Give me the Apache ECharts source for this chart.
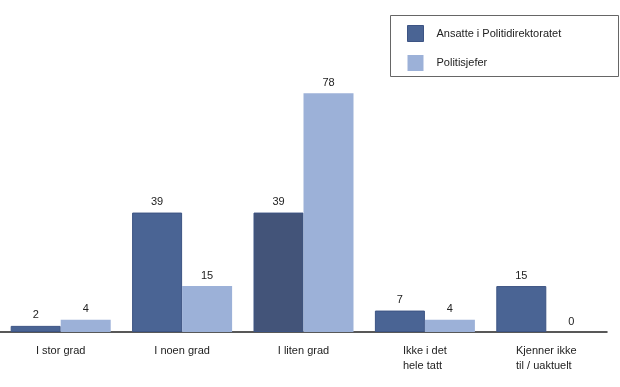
<!DOCTYPE html>
<html><head><meta charset="utf-8">
<script src="https://cdn.jsdelivr.net/npm/echarts@6/dist/echarts.min.js"></script>
<style>html,body{margin:0;padding:0;background:#fff}#c{width:620px;height:387px}</style>
</head><body><div id="c"></div>
<script>
var categories = ['I stor grad', 'I noen grad', 'I liten grad', 'Ikke i det\nhele tatt', 'Kjenner ikke\ntil / uaktuelt'];
var seriesNames = ['Ansatte i Politidirektoratet', 'Politisjefer'];
var ansatte = [2, 39, 39, 7, 15];
var politisjefer = [4, 15, 78, 4, 0];

var chart = echarts.init(document.getElementById('c'));
var font = 'Arial, "Liberation Sans", sans-serif';
chart.setOption({
  animation: false,
  grid: {left: 0, right: 13, top: 87, bottom: 55},
  legend: {
    orient: 'vertical', left: 407, top: 25, padding: 0, itemWidth: 16, itemHeight: 16, itemGap: 13,
    icon: 'rect',
    textStyle: {fontFamily: font, fontSize: 11, color: '#222', rich: {p: {width: 8}}},
    formatter: function (n) { return '{p|}' + n; },
    data: [
      {name: seriesNames[0], itemStyle: {color: '#4a6494', borderColor: '#3d5484', borderWidth: 1}},
      {name: seriesNames[1], itemStyle: {color: '#9cb1d8', borderWidth: 0}}
    ]
  },
  graphic: [{
    type: 'rect', shape: {x: 390.5, y: 15.5, width: 228, height: 61},
    style: {fill: 'none', stroke: '#666', lineWidth: 1}, z: 100, silent: true
  }],
  xAxis: {
    type: 'category', data: categories,
    axisLine: {lineStyle: {color: '#222', width: 1.5}},
    axisTick: {show: false},
    axisLabel: {
      margin: 11, fontFamily: font, fontSize: 11, color: '#222',
      formatter: function (v) { return v.split('\n').map(function (s) { return '{a|' + s + '}'; }).join('\n'); },
      rich: {a: {align: 'left', fontFamily: font, fontSize: 11, color: '#222', lineHeight: 15}}
    }
  },
  yAxis: {type: 'value', min: 0, max: 80, show: false, splitLine: {show: false}},
  series: [{
    name: seriesNames[0], type: 'bar', data: ansatte, barWidth: 50, barGap: 0,
    itemStyle: {
      color: function (p) { return p.dataIndex === 2 ? '#435479' : '#4a6494'; },
      borderColor: '#3d5484', borderWidth: 1
    },
    label: {show: true, position: 'top', distance: 5, fontFamily: font, fontSize: 11, color: '#222'}
  }, {
    name: seriesNames[1], type: 'bar', data: politisjefer, barWidth: 50,
    itemStyle: {color: '#9cb1d8', borderWidth: 0},
    label: {show: true, position: 'top', distance: 5, fontFamily: font, fontSize: 11, color: '#222'}
  }]
});
</script></body></html>
